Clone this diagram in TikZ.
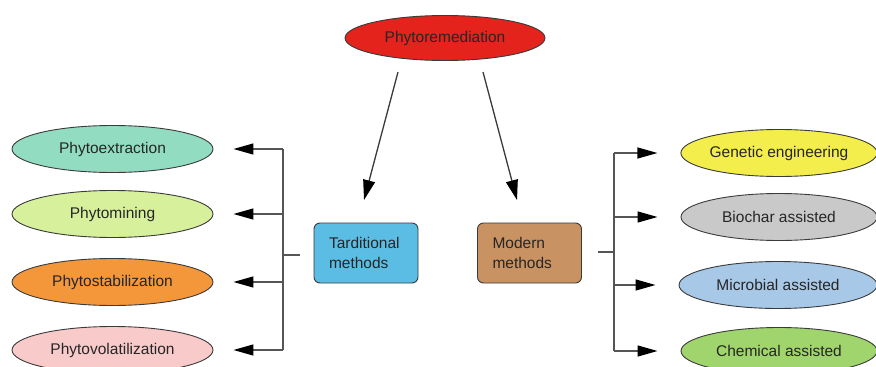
\documentclass[tikz,border=0pt]{standalone}
\usepackage{fontspec}
\setmainfont{Liberation Sans}
\usetikzlibrary{shapes.geometric,arrows.meta}

\definecolor{prred}{HTML}{E3231C}
\definecolor{cextract}{HTML}{92DDC2}
\definecolor{cmining}{HTML}{D6F09C}
\definecolor{cstab}{HTML}{F4963A}
\definecolor{cvolat}{HTML}{F9CACA}
\definecolor{cgenetic}{HTML}{F4EE4C}
\definecolor{cbiochar}{HTML}{C9C9C9}
\definecolor{cmicrob}{HTML}{A8C8E8}
\definecolor{cchem}{HTML}{9FD56C}
\definecolor{ctrad}{HTML}{5BBDE3}
\definecolor{cmodern}{HTML}{C99262}
\definecolor{edgegrey}{HTML}{3A3A3A}
\definecolor{linegrey}{HTML}{555555}

\tikzset{
  x=1pt, y=-1pt,
  every node/.style={font=\fontsize{15.5}{20}\selectfont, text=black!85},
  oval/.style={ellipse, draw=edgegrey, line width=0.9pt, inner sep=0pt,
               minimum height=47pt},
  methodbox/.style={rectangle, rounded corners=6pt, draw=edgegrey, line width=0.9pt,
               minimum height=60pt, text width=74pt, inner xsep=15pt, align=left},
  bar/.style={draw=linegrey, line width=1.3pt},
  arr/.style={bar, -{Triangle[length=20pt,width=11pt,color=black]}},
  diag/.style={draw=edgegrey, line width=1.3pt, -{Triangle[length=20pt,width=12pt,color=black]}},
}

\begin{document}
\begin{tikzpicture}
\useasboundingbox (0,0) rectangle (876,367);

% root
\node[oval, fill=prred, minimum width=200pt, minimum height=45pt] (pr) at (445,38) {Phytoremediation};

% the two families of methods
\node[methodbox, fill=ctrad] (trad) at (366,253) {Tarditional\\methods};
\node[methodbox, fill=cmodern] (modern) at (529.5,253) {Modern\\methods};

% traditional techniques
\node[oval, fill=cextract, minimum width=201pt] (ext) at (112.5,149) {Phytoextraction};
\node[oval, fill=cmining, minimum width=201pt] (min) at (112.5,214) {Phytomining};
\node[oval, fill=cstab, minimum width=201pt] (stab) at (112.5,282) {Phytostabilization};
\node[oval, fill=cvolat, minimum width=201pt] (vol) at (112.5,350) {Phytovolatilization};

% modern techniques
\node[oval, fill=cgenetic, minimum width=196pt] (gen) at (779,153) {Genetic engineering};
\node[oval, fill=cbiochar, minimum width=196pt] (bio) at (779,217) {Biochar assisted};
\node[oval, fill=cmicrob, minimum width=198pt] (mic) at (778,285) {Microbial assisted};
\node[oval, fill=cchem, minimum width=196pt] (chem) at (779,351) {Chemical assisted};

% arrows from the root
\coordinate (d1s) at (398,72);
\coordinate (d1e) at (364,200);
\coordinate (d2s) at (483,72);
\coordinate (d2e) at (517,200);
\draw[diag] (d1s) -- (d1e);
\draw[diag] (d2s) -- (d2e);

% left bracket
\coordinate (lbar) at (283,255);
\coordinate (lstub) at (300,255);
\draw[bar] (lstub) -- (lbar);
\draw[bar] (ext.east -| lbar) -- (vol.east -| lbar);
\foreach \n in {ext,min,stab,vol}
  \draw[arr, shorten >=20pt] (\n.east -| lbar) -- (\n.east);

% right bracket
\coordinate (rbar) at (614,252);
\coordinate (rstub) at (598,252);
\draw[bar] (rstub) -- (rbar);
\draw[bar] (gen.west -| rbar) -- (chem.west -| rbar);
\foreach \n in {gen,bio,mic,chem}
  \draw[arr, shorten >=23pt] (\n.west -| rbar) -- (\n.west);
\end{tikzpicture}
\end{document}
